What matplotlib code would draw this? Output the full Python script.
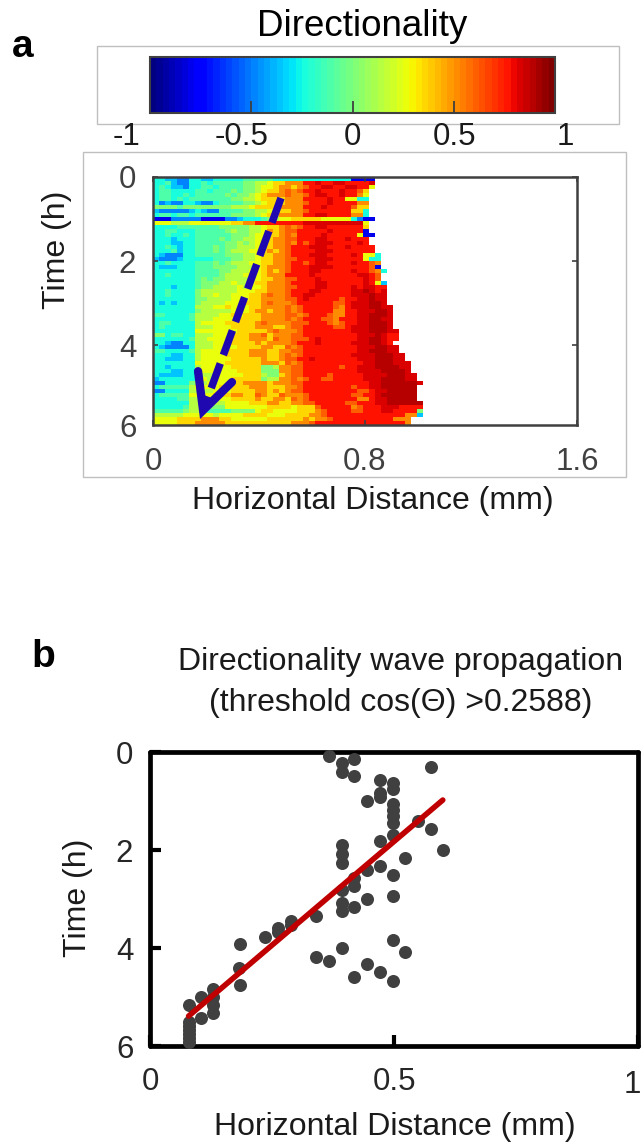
import numpy as np
import matplotlib
matplotlib.use("Agg")
import matplotlib.pyplot as plt
from matplotlib.patches import Rectangle
from matplotlib.cm import ScalarMappable
from matplotlib.colors import Normalize

plt.rcParams['font.family'] = ['Liberation Sans', 'DejaVu Sans']

W, H = 642, 1147

# heatmap cell values, one character per cell, rows are padded with no data on the right
LEVELS = {'0': -0.8, '1': -0.5, '2': -0.37, '3': -0.25, '4': -0.12, '5': 0.03, '6': 0.14, '7': 0.25,
          '8': 0.37, '9': 0.5, 'a': 0.62, 'b': 0.75, 'c': 0.83, 'd': 0.9}
HEAT_ROWS = [
    "332211332233333" "4444433333" "333333330000",
    "334211334344444" "5566788999" "bbcbbccbbbbc",
    "343221334434444" "5567789989" "abbccbbccbb7",
    "344333344344454" "5567889a9a" "bbcbbbcbba8",
    "344334344444545" "5678999a99" "abccbbcbb97",
    "344343444444455" "6678888999" "bbbbcbb7733",
    "312113321134444" "5567888999" "abbbcbbbb99",
    "555545555555566" "6788889999" "bbbcbbbba88",
    "211111232114444" "5566778899" "abbbbbbb883",
    "344344344444455" "5567889999" "bbccbbbb993",
    "000111110000112" "3334567788" "888777773100",
    "777666777777788" "99bbbbbbbb" "cccccccccc7",
    "333344444445555" "5667889a9a" "bbccbbbbbb8",
    "334433344444565" "5667989aab" "bbbbcbbbbb0",
    "334334344444455" "5677889a9b" "bbbcbbbbb700",
    "333233344445455" "6677899aab" "bbccbbbcbbb",
    "333223344444556" "5677899a9b" "abcccbbbbcb",
    "334323344454556" "6678899abb" "bcccbbbcbbbb",
    "333423344454566" "6778989abb" "bbcccbbbbbbb",
    "321113344444555" "6678899abb" "bcccbbbbcb773",
    "211123333344455" "6678899aab" "bbcccbbbbb733",
    "334333344454566" "6778899abb" "abccbbbbcbba9",
    "322233344455556" "6678999abb" "bccccbbbbbba0",
    "333333344445566" "6778989abb" "bccbbbbbcbba93",
    "334333344445666" "7778999bbb" "bcbbbbbbbccba",
    "333333345455666" "6778899aab" "bbcbbbbbbbcba",
    "333333345556676" "6788999abb" "bbccbbbbbbcb72",
    "333233345566667" "6778999aab" "bbccbbbbcbccbb",
    "334333356666667" "7788999abb" "bccbbbbbccdcbc",
    "334333356676677" "7889a99abb" "ccbbbbbbcccdcc",
    "333333355666677" "7889999aab" "cbbbbbabbccdcc",
    "323233356666777" "8889a999ab" "bbbbbaabcccddc",
    "333333366677877" "7889999a9a" "bbbbba9bcccddcc",
    "333333356666677" "7899899a9a" "bbbbb99bbcccddc",
    "443333466667787" "8889999aa9" "abbba99bbccdddc",
    "333333466677778" "8889999a9a" "bbbaa9bbbccddcc",
    "344333367777888" "889a9999aa" "abbba9abbccdddc",
    "343333366677788" "88999889aa" "bbbbbaabcccdddc",
    "333333377777778" "88889a999a" "bbbbbbbbcccdddcc",
    "553443366677788" "899a8999aa" "bbbbbbbbbcccdcbb",
    "333333466777788" "89998a99aa" "abcbbbbbbccddcbb",
    "332113366677888" "88989999ab" "bbcbbbbbcccddcb",
    "321111366677778" "8889988a9a" "bbbbbbbbbcccddcc",
    "443333467777888" "89998899aa" "bbbbbbbbbccdddcc",
    "333223367777888" "8999889a9a" "bbbbbbbbccccdddcc",
    "332223367777788" "8889889aab" "bcbbbbbbbcccdddcc",
    "333333377777888" "8889998a9a" "bbbbbbbbbbccdddccc",
    "332333367777788" "88855699aa" "bbbbbbabbcccddddcc",
    "333223367777778" "88855599aa" "bbbbbbbbbccccddddc",
    "322223366677777" "88865589aa" "bbbbabbbbbccccdddcc",
    "233333377677788" "88856699a9" "abbaabbbbbcccddddcc",
    "113333566777788" "99998999aa" "bbbbbbbbbbbccddddddc",
    "344444677778888" "899988899a" "bbbbbbbbabbccdddddd",
    "113333666677788" "88998989aa" "bbbbbbbbbaabccddddd",
    "344444777788899" "88a988a999" "abbbbbbbaabbcdddddd",
    "333344666677788" "88988998a9" "abbbbbbbb99bccddddd",
    "333333666666777" "7888998899" "aabbbbbaabbbccdddddd",
    "333334666555777" "7777888878" "88abbbbb9abbbcccbbbb",
    "444445666444455" "5578877778" "889abbbbaabbbccbbbb5",
    "666667777767777" "8888777888" "899abbbbbbbbbbbbb992",
    "777788889998877" "7777888888" "9899abbbbbbbbbb999",
    "777788899999888" "8888888899" "9abbbbbbbbbbbbbbb9",
]

# panel a arrow, mm / h
ARROW_X = [0.483, 0.189]
ARROW_Y = [0.5, 5.55]
HEAD_X = [0.17, 0.189, 0.298]
HEAD_Y = [4.62, 5.55, 4.88]

# panel b
DIST = [.367, .393, .418, .393, .418, .471, .575, .497, .497, .471, .471, .445, .497, .497, .497, .497, .497,
        .549, .575, .471, .60, .393, .393, .393, .523, .471, .445, .497, .418, .418, .418, .393, .393, .393,
        .445, .497, .34, .497, .523, .393, .34, .367, .445, .471, .497, .418, .184, .235, .262, .262, .288,
        .288, .183, .184, .13, .13, .13, .13, .105, .079, .105, .079, .079, .079, .079, .079, .079]
TIME = [.08, .23, .15, .41, .49, .57, .31, .64, .76, .83, .92, .99, 1.07, 1.18, 1.31, 1.45, 1.69,
        1.41, 1.57, 1.82, 1.99, 1.90, 2.09, 2.27, 2.16, 2.33, 2.41, 2.50, 2.58, 2.73, 3.16, 2.82, 3.09, 3.24,
        3.01, 2.93, 3.35, 3.84, 4.08, 3.99, 4.18, 4.26, 4.33, 4.49, 4.67, 4.60, 3.92, 3.77, 3.59, 3.67, 3.44,
        3.53, 4.41, 4.76, 4.84, 4.99, 5.16, 5.32, 5.0, 5.17, 5.43, 5.51, 5.59, 5.67, 5.76, 5.84, 5.92]
FIT_X = [0.079, 0.60]
FIT_Y = [5.39, 0.98]


def px_box(left, top, right, bottom):
    return [left / W, 1 - bottom / H, (right - left) / W, (bottom - top) / H]


def px_text(x, y, s, **kw):
    kw.setdefault('ha', 'center')
    kw.setdefault('va', 'center')
    fig.text(x / W, 1 - y / H, s, **kw)


def frame(left, top, right, bottom):
    b = px_box(left, top, right, bottom)
    fig.add_artist(Rectangle((b[0], b[1]), b[2], b[3], transform=fig.transFigure, fill=False,
                             edgecolor='#bfbfbf', linewidth=1.0))


fig = plt.figure(figsize=(W / 100, H / 100), dpi=100)
frame(97, 46, 619, 124)
frame(83, 152, 626, 477)

# colour bar
cax = fig.add_axes(px_box(150, 57, 555, 113))
cmap = plt.get_cmap('jet', 64)
cbar = fig.colorbar(ScalarMappable(Normalize(-1, 1), cmap), cax=cax, orientation='horizontal')
cbar.set_ticks([-0.5, 0, 0.5])
cbar.ax.tick_params(direction='in', length=9, width=1.3, color='#404040', labelbottom=False)
cbar.outline.set_edgecolor('#404040')
cbar.outline.set_linewidth(1.5)
px_text(362, 26, "Directionality", fontsize=26.5, color='black')
for x, s in zip([127, 242, 352, 455, 565], ['-1', '-0.5', '0', '0.5', '1']):
    px_text(x, 137, s, fontsize=22.5, color='#1a1a1a')

# panel a
GREY = '#404040'
n_col = max(len(r) for r in HEAT_ROWS)
heat = np.full((len(HEAT_ROWS), n_col), np.nan)
for i, row in enumerate(HEAT_ROWS):
    for j, c in enumerate(row):
        heat[i, j] = LEVELS[c]

ax = fig.add_axes(px_box(153, 177, 577, 425))
ax.imshow(heat, cmap=cmap, vmin=-1, vmax=1, aspect='auto', interpolation='nearest',
          extent=[0, n_col * 0.0226, 5.9, 0])
ax.set_xlim(0, 1.6)
ax.set_ylim(5.9, 0)
ax.set_xticks([0, 0.8, 1.6], ['0', '0.8', '1.6'])
ax.set_yticks([0, 2, 4], ['0', '2', '4'])
ax.tick_params(direction='in', length=3.5, width=1.2, color=GREY, labelcolor=GREY, labelsize=22.5,
               top=True, right=True, pad=12)
ax.tick_params(axis='x', pad=16)
for s in ax.spines.values():
    s.set_linewidth(1.8)
    s.set_color(GREY)
px_text(128, 429, '6', fontsize=22.5, color=GREY)
ax.plot(ARROW_X, ARROW_Y, color='#2008b0', lw=5.4, dashes=(3.5, 1.2), dash_capstyle='butt')
ax.plot(HEAD_X, HEAD_Y, color='#2008b0', lw=6, solid_capstyle='round', solid_joinstyle='miter')
px_text(57, 250, "Time (h)", fontsize=23, rotation=90, color='#1a1a1a')
px_text(373, 501, "Horizontal Distance (mm)", fontsize=23, color='#1a1a1a')
px_text(23, 47, "a", fontsize=28, fontweight='bold', color='black')

# panel b
bx = fig.add_axes(px_box(150, 752, 638, 1046))
bx.scatter(DIST, TIME, s=88, color='#404040', linewidths=0, clip_on=False, zorder=3)
bx.plot(FIT_X, FIT_Y, color='#c00000', lw=4, solid_capstyle='round', zorder=4)
bx.set_xlim(0, 1)
bx.set_ylim(6, 0)
bx.set_xticks([0, 0.5, 1], ['0', '0.5', ''])
bx.set_yticks([0, 2, 4, 6], ['0', '2', '4', '6'])
bx.tick_params(direction='in', length=8, width=3, color='black', labelcolor='#262626', labelsize=22.5, pad=15)
bx.tick_params(axis='y', pad=12)
for s in bx.spines.values():
    s.set_linewidth(3.4)
    s.set_color('black')
    s.set_capstyle('round')
px_text(641, 1085, '1', ha='right', fontsize=22.5, color='#262626')
px_text(78, 898, "Time (h)", fontsize=23, rotation=90, color='#1a1a1a')
px_text(395, 1127, "Horizontal Distance (mm)", fontsize=23, color='#1a1a1a')
px_text(401, 662, "Directionality wave propagation", fontsize=23, color='#1a1a1a')
px_text(401, 703, "(threshold cos(\u0398) >0.2588)", fontsize=23, color='#1a1a1a')
px_text(43, 657, "b", fontsize=28, fontweight='bold', color='black')

fig.savefig('out.png', dpi=100)
